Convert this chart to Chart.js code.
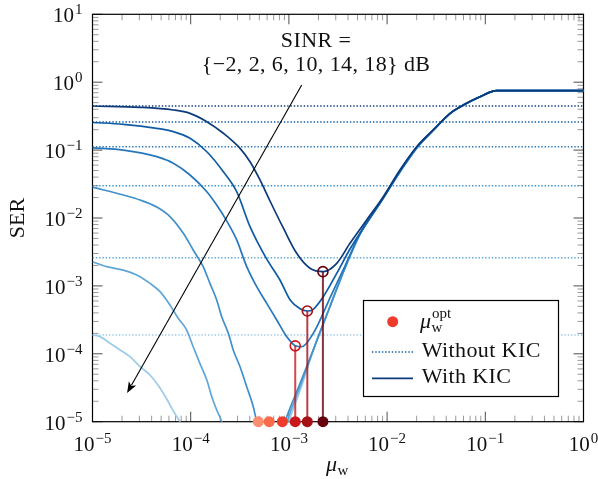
<!DOCTYPE html>
<html>
<head>
<meta charset="utf-8">
<script src="https://cdn.jsdelivr.net/npm/chart.js@4.4.1/dist/chart.umd.min.js"></script>
<style>
  html, body { margin: 0; padding: 0; background: #fff; }
  #wrap { width: 598px; height: 479px; }
</style>
</head>
<body>
<div id="wrap"><canvas id="serChart" width="598" height="479"></canvas></div>
<script>
// Ejes (exponentes de las etiquetas)
const xTickExp = [-5, -4, -3, -2, -1, 0];
const yTickExp = [-5, -4, -3, -2, -1, 0, 1];

// SINR y SER sin KIC (líneas punteadas)
const sinrDb = [-2, 2, 6, 10, 14, 18];
const serWithoutKic = [0.446, 0.259, 0.112, 0.0299, 0.0026, 1.89e-4];

// mu óptimo por SINR y SER en ese punto (sólo los tres visibles)
const muOpt = [2.22e-3, 1.54e-3, 1.16e-3, 8.57e-4, 6.3e-4, 4.88e-4];
const serAtOpt = [1.62e-3, 4.27e-4, 1.31e-4];

// Curvas con KIC
const muM2 = [1e-5, 3.05e-5, 6.65e-5, 9.84e-5, 1.46e-4, 2.15e-4, 3.18e-4, 4.02e-4, 5.08e-4, 6.42e-4, 8.77e-4, 1.2e-3, 1.64e-3, 2.24e-3, 3.07e-3, 4.19e-3, 6.19e-3, 9.14e-3, 0.0135, 0.02, 0.0295, 0.0437, 0.0597, 0.0883, 0.131, 1];
const serM2 = [0.446, 0.427, 0.39, 0.348, 0.262, 0.177, 0.106, 0.0674, 0.0363, 0.0178, 7.13e-3, 3.02e-3, 1.82e-3, 1.62e-3, 2.15e-3, 4.24e-3, 9.35e-3, 0.0206, 0.0509, 0.112, 0.198, 0.348, 0.461, 0.611, 0.75, 0.75];

const mu2 = [1e-5, 2.06e-5, 4.51e-5, 6.65e-5, 9.84e-5, 1.46e-4, 2.15e-4, 2.94e-4, 4.02e-4, 5.85e-4, 8.11e-4, 1.03e-3, 1.3e-3, 1.54e-3, 1.77e-3, 2.24e-3, 3.07e-3, 4.19e-3, 6.19e-3, 9.14e-3, 0.0135, 0.02, 0.0295, 0.0437, 0.0597, 0.0883, 0.131, 1];
const ser2 = [0.255, 0.24, 0.209, 0.187, 0.149, 0.0946, 0.0481, 0.0244, 7.45e-3, 2.58e-3, 1.22e-3, 6.2e-4, 4.6e-4, 4.27e-4, 4.52e-4, 6.93e-4, 1.53e-3, 3.49e-3, 8.43e-3, 0.0196, 0.049, 0.11, 0.196, 0.345, 0.46, 0.61, 0.75, 0.75];

const mu6 = [1e-5, 2.06e-5, 4.51e-5, 6.65e-5, 9.84e-5, 1.46e-4, 1.84e-4, 2.33e-4, 2.94e-4, 3.72e-4, 4.7e-4, 5.94e-4, 7.52e-4, 9.5e-4, 1.16e-3, 1.35e-3, 1.77e-3, 2.24e-3, 2.62e-3, 3.72e-3, 5.3e-3, 8.48e-3, 0.0135, 0.02, 0.0295, 0.0437, 0.0597, 0.0883, 0.131, 1];
const ser6 = [0.108, 0.1, 0.08, 0.064, 0.043, 0.0244, 0.0155, 9.0e-3, 4.75e-3, 1.92e-3, 9.73e-4, 5.54e-4, 3.15e-4, 1.79e-4, 1.31e-4, 1.27e-4, 2.0e-4, 3.99e-4, 6.64e-4, 1.96e-3, 5.9e-3, 0.0168, 0.048, 0.108, 0.196, 0.345, 0.46, 0.61, 0.75, 0.75];

const mu10 = [1e-5, 2.06e-5, 3.05e-5, 4.51e-5, 6.15e-5, 8.41e-5, 1.06e-4, 1.34e-4, 1.57e-4, 1.84e-4, 2.07e-4, 2.42e-4, 2.71e-4, 3.18e-4, 3.72e-4, 4.34e-4, 4.7e-4, 5.32e-4, 6.42e-4, 7.74e-4, 9.12e-4, 1.3e-3, 1.85e-3, 2.62e-3, 3.72e-3, 5.3e-3, 8.48e-3, 0.0135, 0.02, 0.0295, 0.0437, 0.0597, 0.0883, 0.131, 1];
const ser10 = [0.0285, 0.0218, 0.0184, 0.0145, 0.0105, 5.96e-3, 3.38e-3, 1.92e-3, 1.09e-3, 6.2e-4, 3.52e-4, 2.0e-4, 1.14e-4, 6.46e-5, 3.27e-5, 1.66e-5, 1e-5, 5.4e-6, 2.7e-6, 4.5e-6, 1e-5, 3.68e-5, 1.35e-4, 4.98e-4, 1.83e-3, 5.8e-3, 0.0166, 0.0477, 0.107, 0.196, 0.345, 0.46, 0.61, 0.75, 0.75];

const mu14 = [1e-5, 1.4e-5, 2.06e-5, 2.82e-5, 3.85e-5, 4.87e-5, 6.15e-5, 7.43e-5, 9.1e-5, 1.06e-4, 1.24e-4, 1.46e-4, 1.64e-4, 1.84e-4, 2.07e-4, 2.4e-4, 4.7e-4, 8.51e-4, 9.57e-4, 1.32e-3, 1.85e-3, 2.62e-3, 3.72e-3, 5.3e-3, 8.48e-3, 0.0135, 0.02, 0.0295, 0.0437, 0.0597, 0.0883, 0.131, 1];
const ser14 = [2.27e-3, 1.92e-3, 1.71e-3, 1.45e-3, 1.09e-3, 8.22e-4, 5.24e-4, 3.37e-4, 2.24e-4, 1.27e-4, 7.24e-5, 4.11e-5, 2.33e-5, 1.49e-5, 1e-5, 4.5e-6, 1.4e-6, 5.4e-6, 1e-5, 3.5e-5, 1.35e-4, 4.98e-4, 1.83e-3, 5.8e-3, 0.0166, 0.0477, 0.107, 0.196, 0.345, 0.46, 0.61, 0.75, 0.75];

const mu18 = [1e-5, 1.19e-5, 1.51e-5, 1.91e-5, 2.41e-5, 3.05e-5, 3.85e-5, 4.87e-5, 5.7e-5, 6.41e-5, 7.2e-5, 7.78e-5, 8.95e-5, 3.18e-4, 8.91e-4, 1.0e-3, 1.36e-3, 1.85e-3, 2.62e-3, 3.72e-3, 5.3e-3, 8.48e-3, 0.0135, 0.02, 0.0295, 0.0437, 0.0597, 0.0883, 0.131, 1];
const ser18 = [1.89e-4, 1.79e-4, 1.43e-4, 1.14e-4, 9.06e-5, 6.46e-5, 4.88e-5, 3.13e-5, 2.16e-5, 1.59e-5, 1.19e-5, 1e-5, 5.4e-6, 7e-7, 5.4e-6, 1e-5, 3.47e-5, 1.35e-4, 4.98e-4, 1.83e-3, 5.8e-3, 0.0166, 0.0477, 0.107, 0.196, 0.345, 0.46, 0.61, 0.75, 0.75];

const blues = ['#0c3b7c', '#0f5ca5', '#2677bb', '#4091c9', '#5fa6d8', '#9ccbe7'];
const reds = ['#67000d', '#a50f15', '#cb181d', '#ef3b2c', '#fb6a4a', '#fc8f6e'];
const stemColors = ['rgba(103,0,13,0.8)', 'rgba(165,15,21,0.8)', 'rgba(203,24,29,0.8)'];

const SERIF = '"Liberation Serif", "Times New Roman", serif';
const pts = (xs, ys) => xs.map((x, i) => ({ x, y: ys[i] }));

const curves = [[muM2, serM2], [mu2, ser2], [mu6, ser6], [mu10, ser10], [mu14, ser14], [mu18, ser18]];

const datasets = [];
// puntos óptimos sobre el eje
datasets.push({
  data: muOpt.map(x => ({ x, y: 1e-5 })),
  showLine: false, pointRadius: 5.5, pointBorderWidth: 0,
  pointBackgroundColor: reds, clip: false, order: 0
});
// círculos huecos en el mínimo
datasets.push({
  data: serAtOpt.map((y, i) => ({ x: muOpt[i], y })),
  showLine: false, pointRadius: 5, pointBorderWidth: 1.6,
  pointBorderColor: reds.slice(0, 3), pointBackgroundColor: 'rgba(0,0,0,0)',
  clip: false, order: 1
});
// líneas verticales
serAtOpt.forEach((y, i) => {
  datasets.push({
    data: [{ x: muOpt[i], y: 1e-5 }, { x: muOpt[i], y }],
    borderColor: stemColors[i], borderWidth: 2, pointRadius: 0, order: 2
  });
});
// curvas con KIC
curves.forEach(([xs, ys], i) => {
  datasets.push({
    data: pts(xs, ys), borderColor: blues[i], borderWidth: 1.7,
    pointRadius: 0, cubicInterpolationMode: 'monotone', order: 3
  });
});
// sin KIC (punteadas)
serWithoutKic.forEach((v, i) => {
  datasets.push({
    data: [{ x: 1e-5, y: v }, { x: 1, y: v }],
    borderColor: blues[i], borderWidth: 1.4, borderDash: [1.4, 1.9],
    pointRadius: 0, order: 4
  });
});

function drawPow(ctx, exp, x, y, align) {
  const base = '10', sup = exp < 0 ? '\u2212' + (-exp) : String(exp);
  ctx.font = '21px ' + SERIF;
  const wb = ctx.measureText(base).width;
  ctx.font = '15px ' + SERIF;
  const ws = ctx.measureText(sup).width;
  const total = wb + ws + 1;
  const x0 = align === 'center' ? x - total / 2 : x - total;
  ctx.textAlign = 'left';
  ctx.font = '21px ' + SERIF;
  ctx.fillText(base, x0, y);
  ctx.font = '15px ' + SERIF;
  ctx.fillText(sup, x0 + wb + 1, y - 8);
}

// Marco, marcas y etiquetas
const framePlugin = {
  id: 'frame',
  beforeDatasetsDraw(chart) {
    const { ctx, chartArea: a, scales } = chart;
    const xs = scales.x, ys = scales.y;
    ctx.save();
    ctx.lineWidth = 1;
    xTickExp.forEach(e => {
      for (let m = 1; m <= 9; m++) {
        const v = m * Math.pow(10, e);
        if (v > 1.0001) break;
        const px = xs.getPixelForValue(v);
        const len = m === 1 ? 10 : 6;
        ctx.strokeStyle = m === 1 ? 'rgba(0,0,0,0.7)' : 'rgba(0,0,0,0.4)';
        ctx.beginPath();
        ctx.moveTo(px, a.bottom); ctx.lineTo(px, a.bottom - len);
        ctx.moveTo(px, a.top); ctx.lineTo(px, a.top + len);
        ctx.stroke();
      }
    });
    yTickExp.forEach(e => {
      for (let m = 1; m <= 9; m++) {
        const v = m * Math.pow(10, e);
        if (v > 10.0001) break;
        const py = ys.getPixelForValue(v);
        const len = m === 1 ? 10 : 6;
        ctx.strokeStyle = m === 1 ? 'rgba(0,0,0,0.7)' : 'rgba(0,0,0,0.4)';
        ctx.beginPath();
        ctx.moveTo(a.left, py); ctx.lineTo(a.left + len, py);
        ctx.moveTo(a.right, py); ctx.lineTo(a.right - len, py);
        ctx.stroke();
      }
    });
    ctx.strokeStyle = '#000';
    ctx.lineWidth = 1.2;
    ctx.strokeRect(a.left, a.top, a.right - a.left, a.bottom - a.top);

    ctx.fillStyle = '#111';
    ctx.textBaseline = 'alphabetic';
    xTickExp.forEach(e => drawPow(ctx, e, xs.getPixelForValue(Math.pow(10, e)), a.bottom + 29, 'center'));
    yTickExp.forEach(e => drawPow(ctx, e, a.left - 10, ys.getPixelForValue(Math.pow(10, e)) + 8, 'right'));

    // título eje x: mu_w
    ctx.font = 'italic 22px ' + SERIF;
    ctx.textAlign = 'left';
    const wm = ctx.measureText('\u03bc').width;
    const cx = (a.left + a.right) / 2 - 12;
    ctx.fillText('\u03bc', cx, 471);
    ctx.font = '15px ' + SERIF;
    ctx.fillText('w', cx + wm + 0.5, 475);

    // título eje y
    ctx.save();
    ctx.translate(24, (a.top + a.bottom) / 2);
    ctx.rotate(-Math.PI / 2);
    ctx.textAlign = 'center';
    ctx.font = '22px ' + SERIF;
    ctx.fillText('SER', 0, 0);
    ctx.restore();
    ctx.restore();
  }
};

// Anotación, flecha y leyenda
const arrowStart = { x: 1.35e-3, y: 0.91 };
const arrowEnd = { x: 2.25e-5, y: 2.65e-5 };
const noteAnchor = { x: 1.89e-3, y1: 3.3, y2: 1.46 };

const overlayPlugin = {
  id: 'overlay',
  afterDatasetsDraw(chart) {
    const { ctx, scales } = chart;
    const xs = scales.x, ys = scales.y;
    ctx.save();
    // flecha
    const x1 = xs.getPixelForValue(arrowStart.x), y1 = ys.getPixelForValue(arrowStart.y);
    const x2 = xs.getPixelForValue(arrowEnd.x), y2 = ys.getPixelForValue(arrowEnd.y);
    const ang = Math.atan2(y2 - y1, x2 - x1);
    const hl = 11, hw = 4.2;
    ctx.strokeStyle = '#000';
    ctx.lineWidth = 1.1;
    ctx.beginPath();
    ctx.moveTo(x1, y1);
    ctx.lineTo(x2 - Math.cos(ang) * hl * 0.8, y2 - Math.sin(ang) * hl * 0.8);
    ctx.stroke();
    ctx.fillStyle = '#000';
    ctx.beginPath();
    ctx.moveTo(x2, y2);
    ctx.lineTo(x2 - Math.cos(ang) * hl - Math.sin(ang) * hw, y2 - Math.sin(ang) * hl + Math.cos(ang) * hw);
    ctx.lineTo(x2 - Math.cos(ang) * hl * 0.75, y2 - Math.sin(ang) * hl * 0.75);
    ctx.lineTo(x2 - Math.cos(ang) * hl + Math.sin(ang) * hw, y2 - Math.sin(ang) * hl - Math.cos(ang) * hw);
    ctx.closePath();
    ctx.fill();

    // texto SINR
    ctx.fillStyle = '#111';
    ctx.textAlign = 'center';
    ctx.font = '22px ' + SERIF;
    ctx.letterSpacing = '0.4px';
    const nx = xs.getPixelForValue(noteAnchor.x);
    ctx.fillText('SINR =', nx, ys.getPixelForValue(noteAnchor.y1));
    ctx.fillText('{\u2212' + (-sinrDb[0]) + ', ' + sinrDb.slice(1).join(', ') + '} dB', nx, ys.getPixelForValue(noteAnchor.y2));
    ctx.letterSpacing = '0px';

    // leyenda
    const L = 363.5, T = 300.5, W = 195, H = 96;
    ctx.fillStyle = '#fff';
    ctx.fillRect(L, T, W, H);
    ctx.strokeStyle = '#000';
    ctx.lineWidth = 1.2;
    ctx.strokeRect(L, T, W, H);

    ctx.fillStyle = reds[3];
    ctx.beginPath();
    ctx.arc(392.7, 321.7, 5.5, 0, Math.PI * 2);
    ctx.fill();

    ctx.strokeStyle = blues[1];
    ctx.lineWidth = 1.4;
    ctx.setLineDash([1.4, 1.9]);
    ctx.beginPath(); ctx.moveTo(372, 352); ctx.lineTo(413, 352); ctx.stroke();
    ctx.setLineDash([]);
    ctx.strokeStyle = blues[0];
    ctx.lineWidth = 1.7;
    ctx.beginPath(); ctx.moveTo(372, 378.3); ctx.lineTo(413, 378.3); ctx.stroke();

    ctx.fillStyle = '#111';
    ctx.textAlign = 'left';
    ctx.font = 'italic 22px ' + SERIF;
    const wm = ctx.measureText('\u03bc').width;
    ctx.fillText('\u03bc', 420, 328);
    ctx.font = '15px ' + SERIF;
    ctx.fillText('w', 420 + wm + 0.5, 332);
    ctx.fillText('opt', 420 + wm + 1, 318);
    ctx.font = '22px ' + SERIF;
    ctx.letterSpacing = '0.4px';
    ctx.fillText('Without KIC', 421.7, 357.3);
    ctx.fillText('With KIC', 421.7, 383.3);
    ctx.letterSpacing = '0px';
    ctx.restore();
  }
};

new Chart(document.getElementById('serChart'), {
  type: 'line',
  data: { datasets },
  options: {
    responsive: false,
    animation: false,
    devicePixelRatio: 1,
    events: [],
    layout: { padding: { left: 0, right: 14.5, top: 14.3, bottom: 0 } },
    plugins: { legend: { display: false }, tooltip: { enabled: false } },
    scales: {
      x: {
        type: 'logarithmic', min: 1e-5, max: 1,
        ticks: { display: false }, grid: { display: false }, border: { display: false },
        afterFit: s => { s.height = 57.3; }
      },
      y: {
        type: 'logarithmic', min: 1e-5, max: 10,
        ticks: { display: false }, grid: { display: false }, border: { display: false },
        afterFit: s => { s.width = 92.5; }
      }
    }
  },
  plugins: [framePlugin, overlayPlugin]
});
</script>
</body>
</html>
